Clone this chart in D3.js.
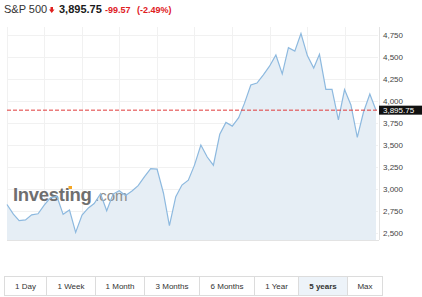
<!DOCTYPE html>
<html>
<head>
<meta charset="utf-8">
<script src="https://cdn.jsdelivr.net/npm/d3@7"></script>
<style>
  body { margin: 0; background: #fff; }
  svg { display: block; font-family: Arial, "Liberation Sans", sans-serif; }
</style>
</head>
<body>
<div id="chart"></div>
<script>
// monthly closes, Jan 2018 .. Dec 2022 (last one is the current price)
const startMonth = "2018-01-01";
const closes = [
  2823.81, 2713.83, 2640.87, 2648.05, 2705.27, 2718.37, 2816.29, 2901.52, 2913.98, 2711.74, 2760.17, 2506.85,
  2704.10, 2784.49, 2834.40, 2945.83, 2752.06, 2941.76, 2980.38, 2926.46, 2976.74, 3037.56, 3140.98, 3230.78,
  3225.52, 2954.22, 2584.59, 2912.43, 3044.31, 3100.29, 3271.12, 3500.31, 3363.00, 3269.96, 3621.63, 3756.07,
  3714.24, 3811.15, 3972.89, 4181.17, 4204.11, 4297.50, 4395.26, 4522.68, 4307.54, 4605.38, 4567.00, 4766.18,
  4515.55, 4373.94, 4530.41, 4131.93, 4132.15, 3785.38, 4130.29, 3955.00, 3585.62, 3871.98, 4080.11, 3895.75
];
const lastPrice = 3895.75;
const change = "-99.57";
const changePct = "(-2.49%)";
const yTicks = [2500, 2750, 3000, 3250, 3500, 3750, 4000, 4250, 4500, 4750];
const xTickLabels = ["Jan", "Jul", "2019", "Jul", "2020", "Jul", "2021", "Jul", "2022", "Jul", "2023"];
const ranges = ["1 Day", "1 Week", "1 Month", "3 Months", "6 Months", "1 Year", "5 years", "Max"];
const selectedRange = "5 years";

const W = 422, H = 297;
const plot = { left: 7, right: 378, top: 27, bottom: 240 };

const parse = d3.timeParse("%Y-%m-%d");
const t0 = parse(startMonth);
const data = closes.map((v, i) => ({ date: d3.timeMonth.offset(t0, i), value: v }));
const xTicks = xTickLabels.map((_, i) => d3.timeMonth.offset(t0, i * 6));

const svg = d3.select("#chart").append("svg")
    .attr("width", W)
    .attr("height", H);

const x = d3.scaleTime()
    .domain([data[0].date, data[data.length - 1].date])
    .range([7, 376]);

const y = d3.scaleLinear()
    .domain([2420, 4841])
    .range([plot.bottom, plot.top]);

// header
const head = svg.append("g");
head.append("text").attr("x", 4).attr("y", 13)
    .attr("font-size", 11).attr("fill", "#333").text("S&P 500");
head.append("path")
    .attr("d", "M50.5,7 h2.5 v2.5 h1.5 l-2.75,3.5 l-2.75,-3.5 h1.5 z")
    .attr("fill", "#e0201f");
head.append("text").attr("x", 59).attr("y", 13)
    .attr("font-size", 11).attr("font-weight", "bold").attr("fill", "#1a1a1a")
    .text(d3.format(",.2f")(lastPrice));
head.append("text").attr("x", 105).attr("y", 13)
    .attr("font-size", 9).attr("font-weight", "bold").attr("fill", "#e0201f").text(change);
head.append("text").attr("x", 137).attr("y", 13)
    .attr("font-size", 9).attr("font-weight", "bold").attr("fill", "#e0201f").text(changePct);

// grid
const grid = svg.append("g").attr("stroke", "#f1f1f1").attr("stroke-width", 1);
grid.selectAll(".hg").data(yTicks).enter().append("line")
    .attr("x1", plot.left).attr("x2", plot.right)
    .attr("y1", d => Math.round(y(d)) + 0.5).attr("y2", d => Math.round(y(d)) + 0.5);
grid.selectAll(".vg").data(xTicks.filter(d => x(d) <= plot.right)).enter().append("line")
    .attr("y1", plot.top).attr("y2", plot.bottom)
    .attr("x1", d => Math.round(x(d)) + 0.5).attr("x2", d => Math.round(x(d)) + 0.5);

// area + watermark + line
svg.append("path")
    .datum(data)
    .attr("fill", "#e6eef5")
    .attr("d", d3.area().x(d => x(d.date)).y0(plot.bottom).y1(d => y(d.value)));

const wm = svg.append("g");
wm.append("text").attr("x", 13).attr("y", 201)
    .attr("font-size", 18.5).attr("font-weight", "bold").attr("fill", "#6f6f6f")
    .attr("letter-spacing", -0.3).text("Investing");
wm.append("text").attr("x", 95).attr("y", 201)
    .attr("font-size", 15).attr("fill", "#8c8c8c").text(".com");
wm.append("rect").attr("x", 68.5).attr("y", 186).attr("width", 3.5).attr("height", 3)
    .attr("fill", "#f5a623");

svg.append("path")
    .datum(data)
    .attr("fill", "none")
    .attr("stroke", "#8db9df")
    .attr("stroke-width", 1.2)
    .attr("d", d3.line().x(d => x(d.date)).y(d => y(d.value)));

// borders
svg.append("line").attr("x1", plot.left).attr("x2", plot.right + 1)
    .attr("y1", plot.bottom + 0.5).attr("y2", plot.bottom + 0.5).attr("stroke", "#e3e3e3");
svg.append("line").attr("x1", plot.right + 1.5).attr("x2", plot.right + 1.5)
    .attr("y1", plot.top).attr("y2", plot.bottom).attr("stroke", "#e3e3e3");

// current price line
svg.append("line")
    .attr("x1", plot.left).attr("x2", plot.right)
    .attr("y1", y(lastPrice)).attr("y2", y(lastPrice))
    .attr("stroke", "#e03a3a").attr("stroke-width", 1)
    .attr("stroke-dasharray", "4,2");

// y axis
const yAxis = svg.append("g")
    .attr("transform", `translate(${plot.right + 5},0)`)
    .call(d3.axisRight(y).tickValues(yTicks).tickFormat(d3.format(",")).tickSize(0).tickPadding(0));
yAxis.select(".domain").remove();
yAxis.selectAll("text").attr("font-size", 8).attr("fill", "#444").attr("font-family", null);

const py = y(lastPrice);
svg.append("rect").attr("x", plot.right + 1).attr("y", py - 4.5)
    .attr("width", W - plot.right - 1).attr("height", 9).attr("fill", "#111");
svg.append("text").attr("x", plot.right + 5).attr("y", py).attr("dy", "0.32em")
    .attr("font-size", 8).attr("fill", "#fff").text(d3.format(",.2f")(lastPrice));

// x axis
svg.append("clipPath").attr("id", "xclip")
    .append("rect").attr("x", 4.5).attr("y", plot.bottom).attr("width", 375.5).attr("height", 20);
const xAxis = svg.append("g")
    .attr("clip-path", "url(#xclip)")
    .attr("transform", `translate(0,${plot.bottom})`)
    .call(d3.axisBottom(x).tickValues(xTicks).tickFormat((d, i) => xTickLabels[i]).tickSize(0).tickPadding(8));
xAxis.select(".domain").remove();
xAxis.selectAll("text").attr("font-size", 8).attr("fill", "#444").attr("font-family", null)
    .attr("dx", (d, i) => /^\d/.test(xTickLabels[i]) ? -3 : 0);

// range buttons
const btnEdges = [4, 46, 95, 144, 199, 254, 298, 347, 382];
const btn = svg.append("g").selectAll("g").data(ranges).enter().append("g");
btn.append("rect")
    .attr("x", (d, i) => btnEdges[i] + 0.5).attr("y", 276.5)
    .attr("width", (d, i) => btnEdges[i + 1] - btnEdges[i]).attr("height", 19)
    .attr("fill", d => d === selectedRange ? "#edf3f9" : "#fff")
    .attr("stroke", "#dcdcdc");
btn.append("text")
    .attr("x", (d, i) => (btnEdges[i] + btnEdges[i + 1]) / 2 + 0.5).attr("y", 289)
    .attr("text-anchor", "middle").attr("font-size", 8)
    .attr("font-weight", d => d === selectedRange ? "bold" : null)
    .attr("fill", "#333").text(d => d);
</script>
</body>
</html>
